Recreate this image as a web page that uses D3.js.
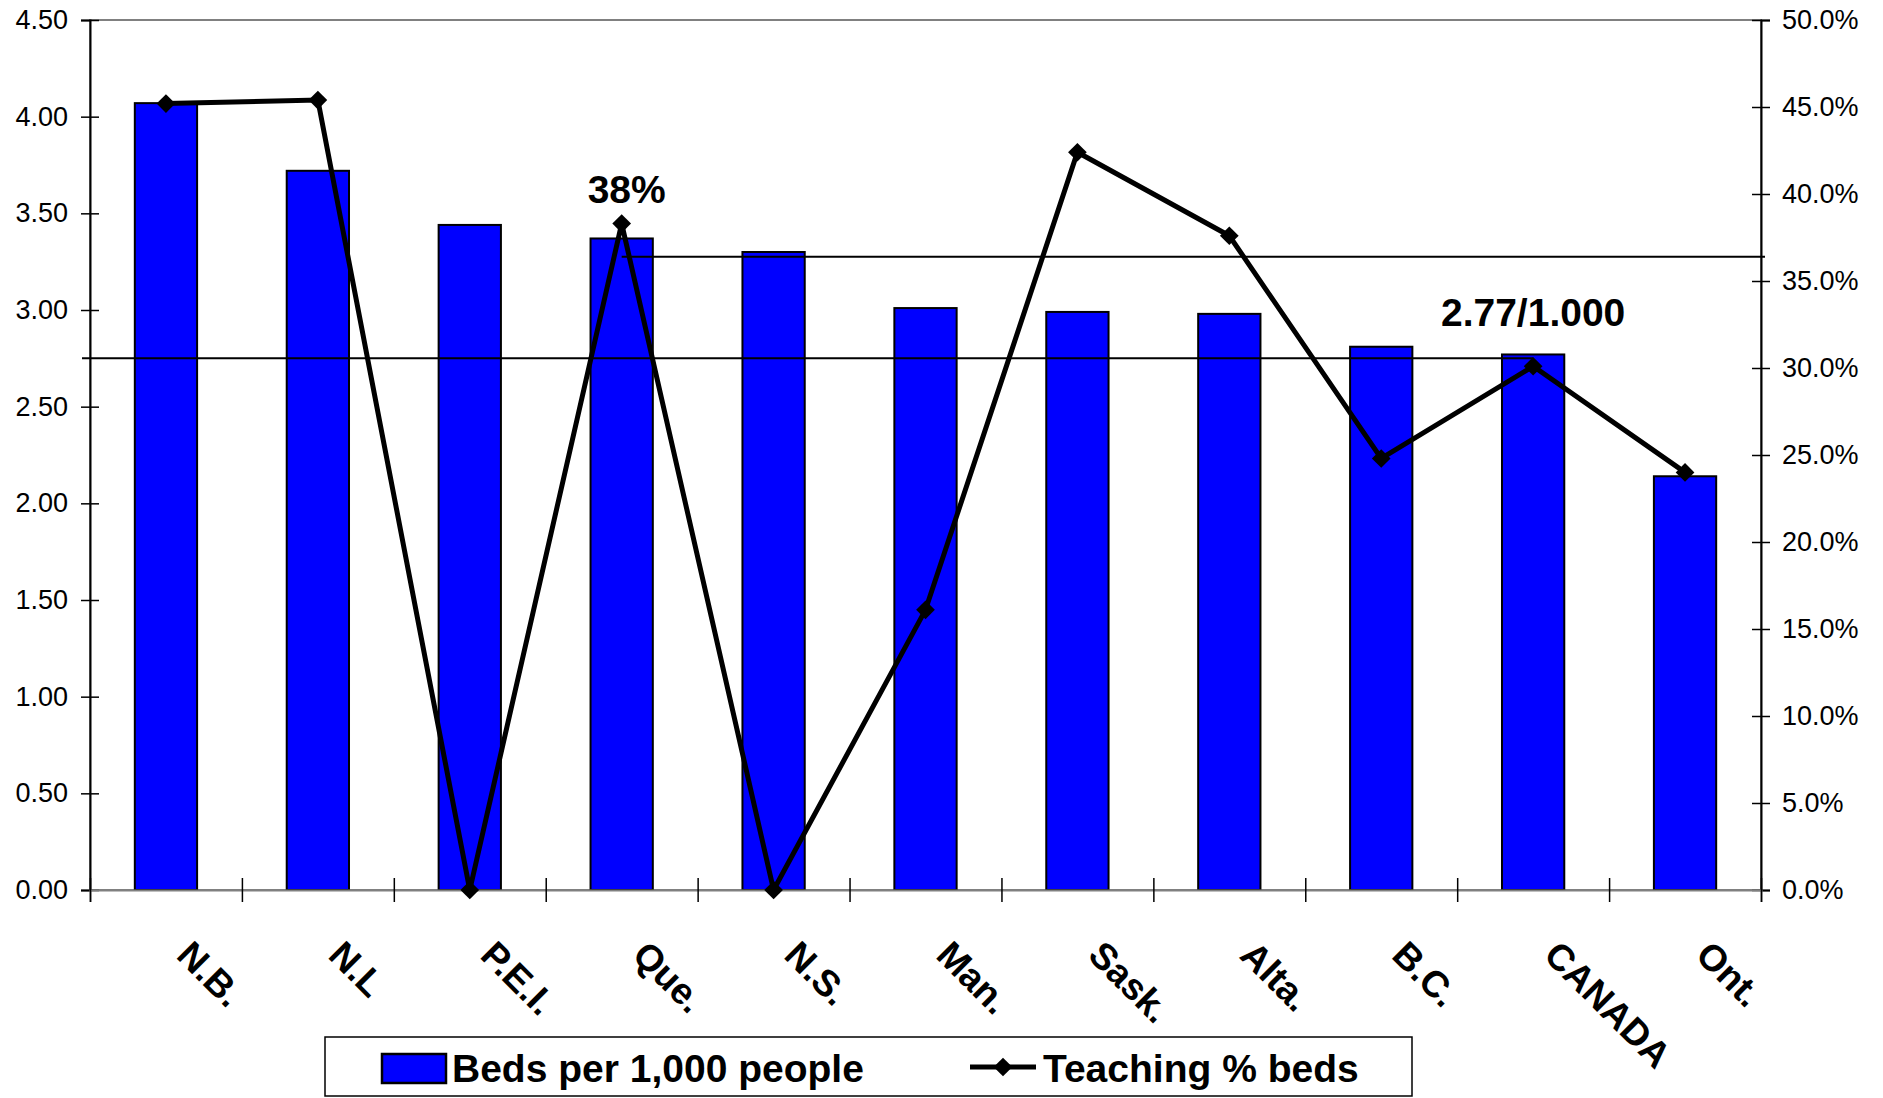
<!DOCTYPE html>
<html>
<head>
<meta charset="utf-8">
<script src="https://cdn.jsdelivr.net/npm/d3@7/dist/d3.min.js"></script>
<style>
    body { margin: 0; background: #fff; }
    text { font-family: Arial, "Liberation Sans", sans-serif; fill: #000; }
</style>
</head>
<body>
<div id="chart"></div>
<script>
// Hospital beds per province, with share of teaching beds

const provinces = ['N.B.', 'N.L', 'P.E.I.', 'Que.', 'N.S.', 'Man.', 'Sask.', 'Alta.', 'B.C.', 'CANADA', 'Ont.'];
const bedsPer1000 = [4.07, 3.72, 3.44, 3.37, 3.30, 3.01, 2.99, 2.98, 2.81, 2.77, 2.14];
const teachingPct = [45.2, 45.4, 0, 38.3, 0, 16.1, 42.4, 37.6, 24.8, 30.1, 24.0];

const bedTicks = [0, 0.5, 1, 1.5, 2, 2.5, 3, 3.5, 4, 4.5];
const pctTicks = [0, 5, 10, 15, 20, 25, 30, 35, 40, 45, 50];

// reference lines drawn on the chart
const avgBedsLine = 2.75;     // left axis, runs to CANADA
const teachLine = 36.4;       // right axis, runs from Que.
const labelQue = '38%';
const labelCanada = '2.77/1.000';

const W = 1883, H = 1098;
const plotLeft = 90, plotRight = 1761, plotTop = 20, plotBottom = 890;

var svg = d3.select('#chart').append('svg')
    .attr('width', W)
    .attr('height', H);

var xScale = d3.scaleBand().domain(provinces).range([plotLeft, plotRight]);
var edgeScale = d3.scaleLinear().domain([0, provinces.length]).range([plotLeft, plotRight]);
var yLeft = d3.scaleLinear().domain([0, 4.5]).range([plotBottom, plotTop]);
var yRight = d3.scaleLinear().domain([0, 50]).range([plotBottom, plotTop]);
var cx = function(name) { return xScale(name) + xScale.bandwidth() / 2; };

// plot area frame (grey)
svg.append('rect')
    .attr('x', plotLeft).attr('y', plotTop)
    .attr('width', plotRight - plotLeft).attr('height', plotBottom - plotTop)
    .attr('fill', 'none')
    .attr('stroke', '#808080')
    .attr('stroke-width', 2);

// bars
var barW = xScale.bandwidth() * 0.41;
svg.selectAll('.bar')
    .data(provinces)
    .enter()
    .append('rect')
    .attr('class', 'bar')
    .attr('x', function(d) { return cx(d) - barW / 2; })
    .attr('y', function(d, i) { return yLeft(bedsPer1000[i]); })
    .attr('width', barW)
    .attr('height', function(d, i) { return plotBottom - yLeft(bedsPer1000[i]); })
    .attr('fill', '#0000FF')
    .attr('stroke', '#000')
    .attr('stroke-width', 2);

// reference lines
svg.append('line')
    .attr('x1', plotLeft - 8).attr('x2', cx('CANADA'))
    .attr('y1', yLeft(avgBedsLine)).attr('y2', yLeft(avgBedsLine))
    .attr('stroke', '#000').attr('stroke-width', 2);
svg.append('line')
    .attr('x1', cx('Que.')).attr('x2', plotRight + 4)
    .attr('y1', yRight(teachLine)).attr('y2', yRight(teachLine))
    .attr('stroke', '#000').attr('stroke-width', 2);

// left axis
var gL = svg.append('g')
    .attr('transform', 'translate(' + plotLeft + ',0)')
    .call(d3.axisLeft(yLeft).tickValues(bedTicks).tickFormat(d3.format('.2f')).tickSize(9).tickPadding(13));
gL.selectAll('.tick line').attr('x1', 9).attr('stroke-width', 1.5);
gL.select('.domain').attr('stroke-width', 2);
gL.selectAll('text').style('font-size', '27px');

// right axis
var gR = svg.append('g')
    .attr('transform', 'translate(' + plotRight + ',0)')
    .call(d3.axisRight(yRight).tickValues(pctTicks).tickFormat(function(d) { return d.toFixed(1) + '%'; }).tickSize(9).tickPadding(12));
gR.selectAll('.tick line').attr('x1', -9).attr('stroke-width', 1.5);
gR.select('.domain').attr('stroke-width', 2);
gR.selectAll('text').style('font-size', '27px');

// bottom axis, ticks between categories
var gB = svg.append('g')
    .attr('transform', 'translate(0,' + plotBottom + ')')
    .call(d3.axisBottom(edgeScale).tickValues(d3.range(provinces.length + 1)).tickFormat('').tickSize(12));
gB.selectAll('.tick line').attr('y1', -12).attr('stroke-width', 1.5);
gB.select('.domain').attr('stroke', '#808080').attr('stroke-width', 2);

// category labels, rotated
svg.selectAll('.cat')
    .data(provinces)
    .enter()
    .append('text')
    .attr('class', 'cat')
    .attr('transform', function(d) { return 'translate(' + (cx(d) + 9) + ',' + (plotBottom + 67) + ') rotate(45)'; })
    .style('font-size', '37px')
    .style('font-weight', 'bold')
    .text(function(d) { return d; });

// teaching % line
var line = d3.line()
    .x(function(d, i) { return cx(provinces[i]); })
    .y(function(d) { return yRight(d); });
svg.append('path')
    .datum(teachingPct)
    .attr('d', line)
    .attr('fill', 'none')
    .attr('stroke', '#000')
    .attr('stroke-width', 5)
    .attr('stroke-linejoin', 'miter');

var diamond = d3.symbol().type(d3.symbolSquare).size(175);
svg.selectAll('.mark')
    .data(teachingPct)
    .enter()
    .append('path')
    .attr('class', 'mark')
    .attr('d', diamond)
    .attr('transform', function(d, i) { return 'translate(' + cx(provinces[i]) + ',' + yRight(d) + ') rotate(45)'; })
    .attr('fill', '#000');

// annotations
svg.append('text')
    .attr('x', cx('Que.') + 5).attr('y', 203)
    .attr('text-anchor', 'middle')
    .style('font-size', '39px').style('font-weight', 'bold')
    .text(labelQue);
svg.append('text')
    .attr('x', cx('CANADA')).attr('y', 326)
    .attr('text-anchor', 'middle')
    .style('font-size', '39px').style('font-weight', 'bold')
    .text(labelCanada);

// legend
var lg = svg.append('g');
lg.append('rect')
    .attr('x', 325).attr('y', 1037)
    .attr('width', 1087).attr('height', 59)
    .attr('fill', '#fff')
    .attr('stroke', '#000').attr('stroke-width', 1.5);
lg.append('rect')
    .attr('x', 382).attr('y', 1054)
    .attr('width', 64).attr('height', 29)
    .attr('fill', '#0000FF')
    .attr('stroke', '#000').attr('stroke-width', 2.5);
lg.append('text')
    .attr('x', 452).attr('y', 1082)
    .style('font-size', '39px').style('font-weight', 'bold')
    .text('Beds per 1,000 people');
lg.append('line')
    .attr('x1', 970).attr('x2', 1036)
    .attr('y1', 1067).attr('y2', 1067)
    .attr('stroke', '#000').attr('stroke-width', 5);
lg.append('path')
    .attr('d', diamond)
    .attr('transform', 'translate(1003,1067) rotate(45)')
    .attr('fill', '#000');
lg.append('text')
    .attr('x', 1043).attr('y', 1082)
    .style('font-size', '39px').style('font-weight', 'bold')
    .text('Teaching % beds');
</script>
</body>
</html>
